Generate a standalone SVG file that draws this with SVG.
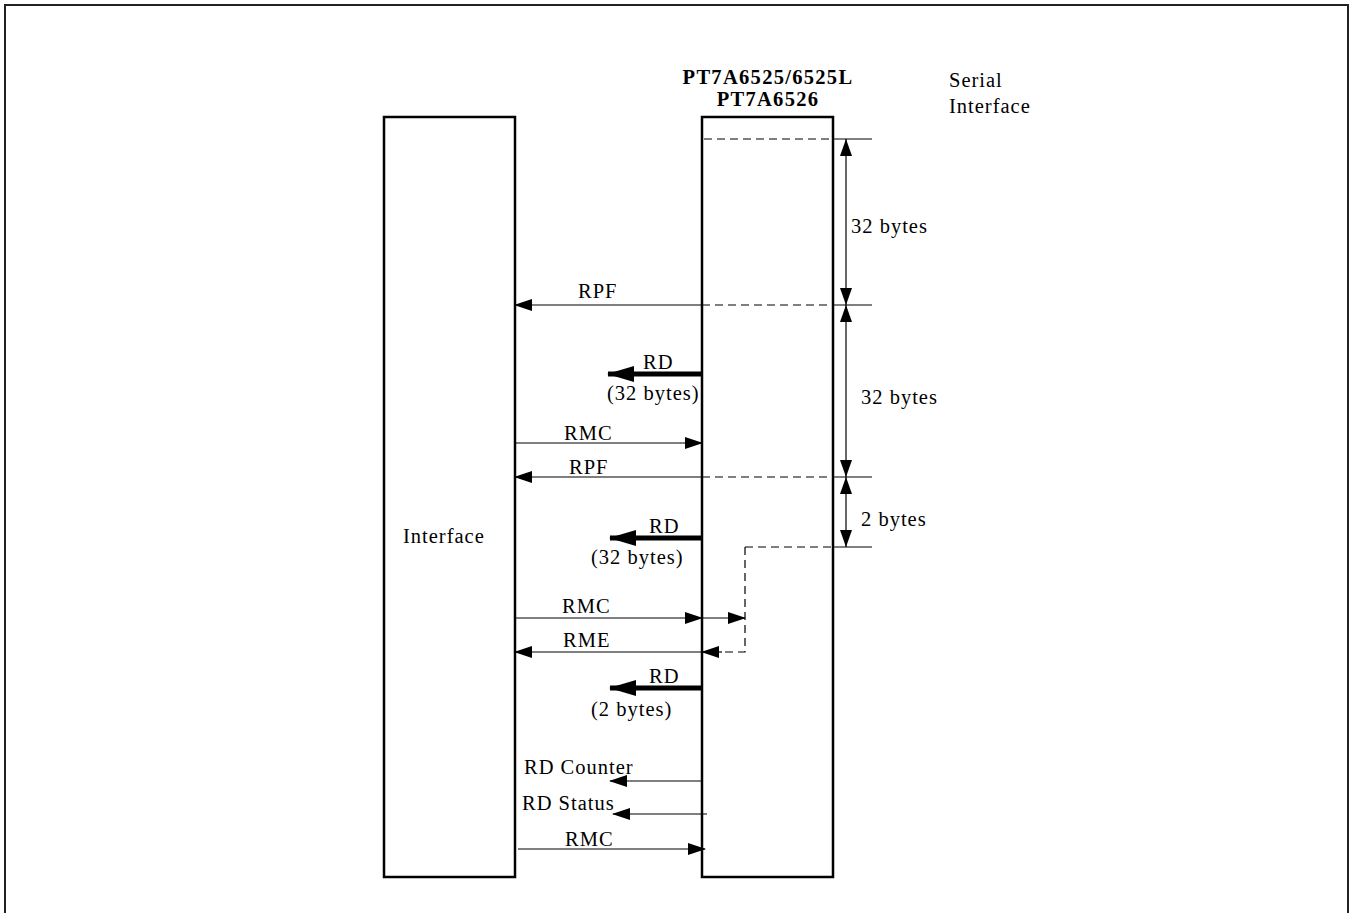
<svg xmlns="http://www.w3.org/2000/svg" width="1351" height="913" viewBox="0 0 1351 913">
<defs>
<style>
text{font-family:"Liberation Serif","Times New Roman",serif;font-size:20.5px;fill:#000;letter-spacing:1px}
.b{font-weight:bold;letter-spacing:1.3px}
.box{fill:#fff;stroke:#000;stroke-width:2.5}
.ln{stroke:#000;stroke-width:1.2;fill:none}
.ds{stroke:#000;stroke-width:1.2;fill:none;stroke-dasharray:8 5}
.thk{stroke:#000;stroke-width:5;fill:none}
</style>
<marker id="a" markerWidth="18" markerHeight="12" refX="17" refY="6" orient="auto" markerUnits="userSpaceOnUse"><path d="M0,0 L18,6 L0,12 Z" fill="#000"/></marker>
<marker id="d" markerWidth="17" markerHeight="12" refX="17" refY="6" orient="auto" markerUnits="userSpaceOnUse"><path d="M0,0 L17,6 L0,12 Z" fill="#000"/></marker>
<marker id="t" markerWidth="27" markerHeight="16" refX="26" refY="8" orient="auto" markerUnits="userSpaceOnUse"><path d="M0,0 L27,8 L0,16 Z" fill="#000"/></marker>
</defs>
<rect x="5" y="5" width="1343" height="920" fill="none" stroke="#222" stroke-width="2"/>
<g id="interface"><rect class="box" x="384" y="117" width="131" height="760"/><text x="403" y="543">Interface</text></g>
<g id="chip"><rect class="box" x="702" y="117" width="131" height="760"/>
<text class="b" x="768" y="84" text-anchor="middle">PT7A6525/6525L</text>
<text class="b" x="768" y="106" text-anchor="middle">PT7A6526</text></g>
<g id="serial"><text x="949" y="87">Serial</text><text x="949" y="113">Interface</text></g>
<g id="connectors">
<path class="ds" d="M704,139 H833"/><path class="ln" d="M833,139 H872"/>
<path class="ds" d="M702,305 H833"/><path class="ln" d="M833,305 H872"/>
<path class="ds" d="M702,477 H833"/><path class="ln" d="M833,477 H872"/>
<path class="ds" d="M745,547 H833"/><path class="ln" d="M833,547 H872"/>
<path class="ln" d="M846,222 V139" marker-end="url(#d)"/><path class="ln" d="M846,222 V305" marker-end="url(#d)"/>
<path class="ln" d="M846,391 V305" marker-end="url(#d)"/><path class="ln" d="M846,391 V477" marker-end="url(#d)"/>
<path class="ln" d="M846,512 V477" marker-end="url(#d)"/><path class="ln" d="M846,512 V547" marker-end="url(#d)"/>
<text x="851" y="233">32 bytes</text><text x="861" y="404">32 bytes</text><text x="861" y="526">2 bytes</text>
<path class="ln" d="M702,305 H515" marker-end="url(#a)"/><text x="578" y="298">RPF</text>
<path class="thk" d="M702,374 H608" marker-end="url(#t)"/><text x="643" y="369">RD</text><text x="607" y="400">(32 bytes)</text>
<path class="ln" d="M515,443 H702" marker-end="url(#a)"/><text x="564" y="440">RMC</text>
<path class="ln" d="M702,477 H515" marker-end="url(#a)"/><text x="569" y="474">RPF</text>
<path class="thk" d="M702,538 H610" marker-end="url(#t)"/><text x="649" y="533">RD</text><text x="591" y="564">(32 bytes)</text>
<path class="ln" d="M515,618 H702" marker-end="url(#a)"/><text x="562" y="613">RMC</text>
<path class="ln" d="M702,618 H745" marker-end="url(#a)"/>
<path class="ds" d="M745,547 V652 H720"/><path class="ln" d="M722,652 H702" marker-end="url(#a)"/>
<path class="ln" d="M702,652 H515" marker-end="url(#a)"/><text x="563" y="647">RME</text>
<path class="thk" d="M702,688 H610" marker-end="url(#t)"/><text x="649" y="683">RD</text><text x="591" y="716">(2 bytes)</text>
<path class="ln" d="M702,781 H610" marker-end="url(#a)"/><text x="524" y="774">RD Counter</text>
<path class="ln" d="M707,814 H613" marker-end="url(#a)"/><text x="522" y="810">RD Status</text>
<path class="ln" d="M518,849 H705" marker-end="url(#a)"/><text x="565" y="846">RMC</text>
</g>
</svg>
